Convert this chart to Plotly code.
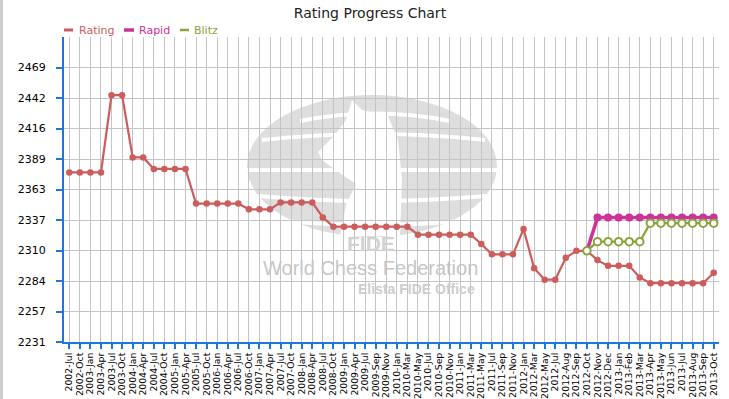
import plotly.graph_objects as go

categories = [
    "2002-Jul", "2002-Oct",
    "2003-Jan", "2003-Apr", "2003-Jul", "2003-Oct",
    "2004-Jan", "2004-Apr", "2004-Jul", "2004-Oct",
    "2005-Jan", "2005-Apr", "2005-Jul", "2005-Oct",
    "2006-Jan", "2006-Apr", "2006-Jul", "2006-Oct",
    "2007-Jan", "2007-Apr", "2007-Jul", "2007-Oct",
    "2008-Jan", "2008-Apr", "2008-Jul", "2008-Oct",
    "2009-Jan", "2009-Apr", "2009-Jul", "2009-Sep", "2009-Nov",
    "2010-Jan", "2010-Mar", "2010-May", "2010-Jul", "2010-Sep", "2010-Nov",
    "2011-Jan", "2011-Mar", "2011-May", "2011-Jul", "2011-Sep", "2011-Nov",
    "2012-Jan", "2012-Mar", "2012-May", "2012-Jul", "2012-Aug", "2012-Sep",
    "2012-Oct", "2012-Nov", "2012-Dec",
    "2013-Jan", "2013-Feb", "2013-Mar", "2013-Apr", "2013-May", "2013-Jun",
    "2013-Jul", "2013-Aug", "2013-Sep", "2013-Oct",
]

rating = [
    2378, 2378,
    2378, 2378, 2445, 2445,
    2391, 2391, 2381, 2381,
    2381, 2381, 2351, 2351,
    2351, 2351, 2351, 2346,
    2346, 2346, 2352, 2352,
    2352, 2352, 2339, 2331,
    2331, 2331, 2331, 2331, 2331,
    2331, 2331, 2324, 2324, 2324, 2324,
    2324, 2324, 2316, 2307, 2307, 2307,
    2329, 2295, 2285, 2285, 2304, 2310,
    2310, 2302, 2297,
    2297, 2297, 2287, 2282, 2282, 2282,
    2282, 2282, 2282, 2291,
]

rapid = [None] * 49 + [2310] + [2339] * 12
blitz = [None] * 49 + [2310] + [2318] * 5 + [2334] * 7

y_tick_labels = ["2231", "2257", "2284", "2310", "2337", "2363", "2389", "2416", "2442", "2469"]
y_tick_step = 26.44
y_min = 2231
y_max = y_min + 10 * y_tick_step
y_tick_vals = [y_min + i * y_tick_step for i in range(len(y_tick_labels))]

C_RATING = "#cd5c5c"
C_RAPID = "#cc3399"
C_BLITZ = "#8aa33c"
C_AXIS = "#1e78dc"
C_GRID = "#c4c4c4"
C_WM = "#dedede"

# plot area in pixels
L, R, T, B = 64, 719, 37, 342
W, H = R - L, B - T


def px(x):
    return (x - L) / W


def py(y):
    return (B - y) / H


fig = go.Figure()
fig.add_trace(go.Scatter(
    x=categories, y=rating, name="Rating", mode="lines+markers",
    line=dict(color=C_RATING, width=2.2),
    marker=dict(color=C_RATING, size=6.5),
))
fig.add_trace(go.Scatter(
    x=categories, y=rapid, name="Rapid", mode="lines+markers",
    line=dict(color=C_RAPID, width=3.5),
    marker=dict(color=C_RAPID, size=8),
))
fig.add_trace(go.Scatter(
    x=categories, y=blitz, name="Blitz", mode="lines+markers",
    line=dict(color=C_BLITZ, width=2.2),
    marker=dict(color="white", size=7.5, line=dict(color=C_BLITZ, width=2)),
))

shapes = []
# page left border strip
shapes.append(dict(type="rect", xref="paper", yref="paper",
                   x0=px(0), x1=px(3), y0=py(399), y1=py(0),
                   fillcolor="#cccccc", line=dict(width=0), layer="below"))
# watermark globe
shapes.append(dict(type="circle", xref="paper", yref="paper",
                   x0=px(247), x1=px(497), y0=py(237), y1=py(95),
                   fillcolor=C_WM, line=dict(width=0), layer="below"))


def pathstr(points):
    return "M " + " L ".join(f"{px(x)},{py(y)}" for x, y in points) + " Z"


# knight silhouette (simplified)
knight = [(352, 100), (362, 110), (388, 116), (398, 140), (402, 180), (400, 236),
          (340, 236), (346, 205), (356, 184), (344, 176), (322, 160), (318, 152),
          (334, 136), (346, 120)]
shapes.append(dict(type="path", xref="paper", yref="paper", path=pathstr(knight),
                   fillcolor="white", line=dict(width=0), layer="below"))
# white bands on globe
bands = [
    ((300, 121), (375, 106), (450, 121)),
    ((262, 140), (375, 128), (485, 140)),
    ((247, 170), (372, 170), (497, 170)),
    ((258, 196), (372, 206), (486, 196)),
    ((285, 221), (372, 229), (460, 221)),
]
for (x0, y0), (xc, yc), (x1, y1) in bands:
    shapes.append(dict(type="path", xref="paper", yref="paper",
                       path=f"M {px(x0)},{py(y0)} Q {px(xc)},{py(yc)} {px(x1)},{py(y1)}",
                       line=dict(color="white", width=4), layer="below"))

# manual legend symbols
legend_items = [("Rating", C_RATING, 64, 73, 3, 77),
                ("Rapid", C_RAPID, 124, 134, 3.5, 137),
                ("Blitz", C_BLITZ, 180, 189, 2.5, 192)]
annotations = []
for name, col, x0, x1, lw, tx in legend_items:
    shapes.append(dict(type="line", xref="paper", yref="paper",
                       x0=px(x0), x1=px(x1), y0=py(30), y1=py(30),
                       line=dict(color=col, width=lw)))
    annotations.append(dict(text=name, xref="paper", yref="paper",
                            x=px(tx), y=py(30), xanchor="left", yanchor="middle",
                            showarrow=False, font=dict(color=col, size=11,
                                                       family="DejaVu Sans")))

# watermark texts
annotations.append(dict(text="<b>FIDE</b>", xref="paper", yref="paper",
                        x=px(371), y=py(243), xanchor="center", yanchor="middle",
                        showarrow=False,
                        font=dict(color="#d2d2d2", size=21, family="Liberation Sans")))
annotations.append(dict(text="World Chess Federation", xref="paper", yref="paper",
                        x=px(370), y=py(268), xanchor="center", yanchor="middle",
                        showarrow=False,
                        font=dict(color="#c6c6c6", size=20, family="Liberation Sans")))
annotations.append(dict(text="<b>Elista FIDE Office</b>", xref="paper", yref="paper",
                        x=px(416), y=py(289), xanchor="center", yanchor="middle",
                        showarrow=False,
                        font=dict(color="#cdcdcd", size=14, family="Liberation Sans")))

fig.update_layout(
    width=729, height=399,
    margin=dict(l=L, r=729 - R, t=T, b=399 - B, pad=0, autoexpand=False),
    paper_bgcolor="white", plot_bgcolor="white",
    showlegend=False,
    title=dict(text="Rating Progress Chart", x=370 / 729, xanchor="center",
               y=1 - 13 / 399, yanchor="middle", automargin=False,
               font=dict(size=14, color="#222222", family="DejaVu Sans")),
    font=dict(family="DejaVu Sans", size=11, color="black"),
    shapes=shapes,
    annotations=annotations,
)
fig.update_xaxes(
    type="category", categoryorder="array", categoryarray=categories,
    range=[-0.5, len(categories) - 0.5],
    tickmode="array", tickvals=categories, ticktext=categories,
    automargin=False,
    showgrid=True, gridcolor=C_GRID, gridwidth=1,
    showline=True, linecolor=C_AXIS, linewidth=2,
    ticks="outside", tickcolor=C_AXIS, tickwidth=2, ticklen=5,
    ticklabelstandoff=0,
    tickangle=-90, tickfont=dict(size=9.3, color="black"),
    zeroline=False, fixedrange=True,
)
fig.update_yaxes(
    range=[y_min, y_max],
    tickvals=y_tick_vals, ticktext=y_tick_labels,
    automargin=False,
    showgrid=True, gridcolor=C_GRID, gridwidth=1,
    showline=True, linecolor=C_AXIS, linewidth=2,
    ticks="outside", tickcolor=C_AXIS, tickwidth=2, ticklen=6,
    ticklabelstandoff=8,
    tickfont=dict(size=11, color="black"),
    zeroline=False, fixedrange=True,
)

fig.write_html("out.html", config={"displayModeBar": False},
               post_script="document.body.style.margin='0';")
